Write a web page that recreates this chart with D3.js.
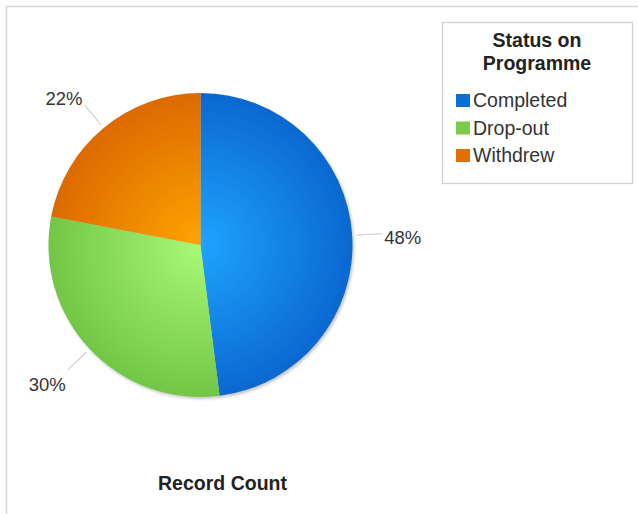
<!DOCTYPE html>
<html>
<head>
<meta charset="utf-8">
<script src="https://cdn.jsdelivr.net/npm/d3@7"></script>
<style>
  html, body { margin: 0; padding: 0; background: #fff; }
  svg { display: block; font-family: "Liberation Sans", Arial, Helvetica, sans-serif; }
</style>
</head>
<body>
<svg id="chart" width="638" height="514"></svg>
<script>
// Status on Programme — share of record count
const categories = ["Completed", "Drop-out", "Withdrew"];
const values = [48, 30, 22];
const percentLabels = ["48%", "30%", "22%"];
const legendTitle = ["Status on", "Programme"];
const chartTitle = "Record Count";

// Slice colours: light centre tone and darker rim tone
const centreColors = ["#1ea4ff", "#aaf878", "#ffa400"];
const rimColors = ["#0a68d0", "#72c646", "#dc6a00"];
const swatchColors = ["#0b6fd8", "#79cc4c", "#e27000"];

const svg = d3.select("#chart");
const W = 638, H = 514;
const cx = 200.5, cy = 245, R = 152;

// Outer frame lines
svg.append("line").attr("x1", 6).attr("y1", 6.5).attr("x2", W).attr("y2", 6.5)
  .attr("stroke", "#d6d6d6").attr("stroke-width", 1.5);
svg.append("line").attr("x1", 6.5).attr("y1", 6).attr("x2", 6.5).attr("y2", H)
  .attr("stroke", "#d6d6d6").attr("stroke-width", 1.5);

const defs = svg.append("defs");
categories.forEach((c, i) => {
  const g = defs.append("radialGradient")
    .attr("id", "grad" + i)
    .attr("gradientUnits", "userSpaceOnUse")
    .attr("cx", 0).attr("cy", 0).attr("r", R);
  g.append("stop").attr("offset", "0%").attr("stop-color", centreColors[i]);
  g.append("stop").attr("offset", "100%").attr("stop-color", rimColors[i]);
});
const blur = defs.append("filter").attr("id", "shadow")
  .attr("x", "-20%").attr("y", "-20%").attr("width", "140%").attr("height", "140%");
blur.append("feGaussianBlur").attr("stdDeviation", 1.8);

const pie = d3.pie().sort(null).value(d => d)
  .startAngle(0).endAngle(2 * Math.PI);
const arcs = pie(values);
const arc = d3.arc().innerRadius(0).outerRadius(R);

const g = svg.append("g").attr("transform", `translate(${cx},${cy})`);

// soft drop shadow beneath the pie
g.append("circle").attr("cx", 1.5).attr("cy", 2).attr("r", R)
  .attr("fill", "#8a8a8a").attr("opacity", 0.5).attr("filter", "url(#shadow)");

g.selectAll("path.slice").data(arcs).enter().append("path")
  .attr("class", "slice")
  .attr("d", arc)
  .attr("fill", (d, i) => `url(#grad${i})`);

// Leader lines (radial, from just outside the rim) and percentage labels
const rIn = R + 4, rOut = R + 30;
arcs.forEach((d, i) => {
  const mid = (d.startAngle + d.endAngle) / 2;
  const a = d3.arc().innerRadius(rIn).outerRadius(rIn).startAngle(mid).endAngle(mid);
  const b = d3.arc().innerRadius(rOut).outerRadius(rOut).startAngle(mid).endAngle(mid);
  const p0 = a.centroid();
  const p1 = b.centroid();
  const right = Math.sin(mid) > 0;
  const lower = Math.cos(mid) < -0.3;
  g.append("line")
    .attr("x1", p0[0]).attr("y1", p0[1]).attr("x2", p1[0]).attr("y2", p1[1])
    .attr("stroke", "#d0d0d0").attr("stroke-width", 1.2);
  g.append("text")
    .attr("x", right ? p1[0] + 2 : p1[0] - 2)
    .attr("y", right ? p1[1] + 10 : (lower ? p1[1] + 21 : p1[1]))
    .attr("text-anchor", right ? "start" : "end")
    .attr("font-size", 18.5)
    .attr("fill", "#333")
    .text(percentLabels[i]);
});

// Legend
const lg = svg.append("g");
lg.append("rect").attr("x", 442.5).attr("y", 22.5).attr("width", 190).attr("height", 161)
  .attr("fill", "#fff").attr("stroke", "#d0d0d0").attr("stroke-width", 1.3);
legendTitle.forEach((t, i) => {
  lg.append("text").attr("x", 537).attr("y", 47 + i * 23)
    .attr("text-anchor", "middle").attr("font-size", 19.5).attr("font-weight", "bold")
    .attr("fill", "#222").text(t);
});
categories.forEach((c, i) => {
  const y = 107 + i * 27.5;
  lg.append("rect").attr("x", 456).attr("y", y - 13).attr("width", 14).attr("height", 13)
    .attr("fill", swatchColors[i]);
  lg.append("text").attr("x", 473).attr("y", y)
    .attr("font-size", 19.5).attr("fill", "#333").text(c);
});

// Chart title
svg.append("text").attr("x", 222.5).attr("y", 490)
  .attr("text-anchor", "middle").attr("font-size", 19.5).attr("font-weight", "bold")
  .attr("fill", "#222").text(chartTitle);
</script>
</body>
</html>
